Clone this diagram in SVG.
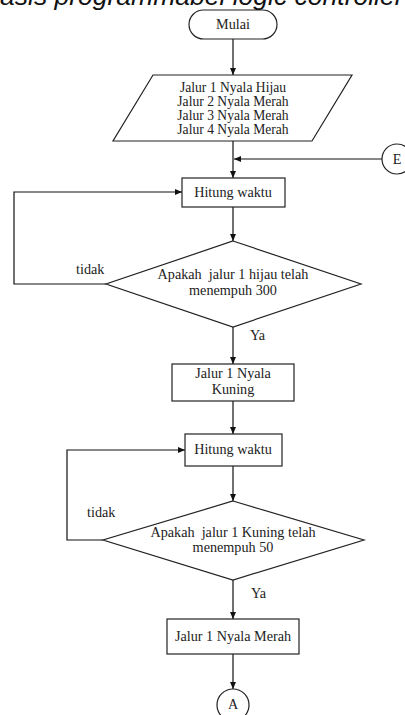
<svg xmlns="http://www.w3.org/2000/svg" width="405" height="715" viewBox="0 0 405 715">
<defs>
<marker id="ah" markerWidth="8" markerHeight="6" refX="7" refY="3" orient="auto" markerUnits="userSpaceOnUse">
<path d="M0,0 L7,3 L0,6 Z" fill="#111"/>
</marker>
<style>
.s{fill:#fff;stroke:#222;stroke-width:1.2}
.c{fill:none;stroke:#111;stroke-width:1.2}
.t{font-family:"Liberation Serif","Times New Roman",serif;font-size:14.2px;fill:#222;text-anchor:middle;white-space:pre}
.l{font-family:"Liberation Serif","Times New Roman",serif;font-size:14.2px;fill:#222}
.m{font-size:13.6px}
</style>
</defs>
<rect width="405" height="715" fill="#fff"/>
<text x="0" y="4.5" font-family="Liberation Sans, Arial, sans-serif" font-size="26.5" font-style="italic" fill="#111">asis programmabel logic controller</text>

<g id="connectors">
<line class="c" x1="233" y1="39" x2="233" y2="75" marker-end="url(#ah)"/>
<line class="c" x1="233" y1="141" x2="233" y2="178" marker-end="url(#ah)"/>
<line class="c" x1="382" y1="159" x2="234" y2="159" marker-end="url(#ah)" stroke="#555"/>
<line class="c" x1="233" y1="207" x2="233" y2="241" marker-end="url(#ah)"/>
<polyline class="c" points="106,284 14,284 14,192 182,192" marker-end="url(#ah)"/>
<line class="c" x1="233" y1="327" x2="233" y2="364" marker-end="url(#ah)"/>
<line class="c" x1="233" y1="401" x2="233" y2="434" marker-end="url(#ah)"/>
<line class="c" x1="233" y1="466" x2="233" y2="501" marker-end="url(#ah)"/>
<polyline class="c" points="103,540 67,540 67,450 185,450" marker-end="url(#ah)"/>
<line class="c" x1="233" y1="580" x2="233" y2="619" marker-end="url(#ah)"/>
<line class="c" x1="233" y1="654" x2="233" y2="689" marker-end="url(#ah)"/>
<text class="l" x="76" y="274">tidak</text>
<text class="l" x="250" y="340">Ya</text>
<text class="l" x="87" y="517">tidak</text>
<text class="l" x="251" y="598">Ya</text>
</g>

<g id="mulai">
<rect class="s" x="189" y="10" width="88" height="29" rx="14.5" ry="14.5"/>
<text class="t" x="233" y="29">Mulai</text>
</g>

<g id="init">
<polygon class="s" points="153,75 352,75 312,141 113,141"/>
<text class="t m" x="233" y="92">Jalur 1 Nyala Hijau</text>
<text class="t m" x="233" y="106">Jalur 2 Nyala Merah</text>
<text class="t m" x="233" y="120">Jalur 3 Nyala Merah</text>
<text class="t m" x="233" y="134">Jalur 4 Nyala Merah</text>
</g>

<g id="E">
<circle class="s" cx="397" cy="159" r="15"/>
<text class="t" x="397" y="164">E</text>
</g>

<g id="hitung1">
<rect class="s" x="182" y="178" width="103" height="29"/>
<text class="t" x="233" y="197">Hitung waktu</text>
</g>

<g id="dec1">
<polygon class="s" points="233,241 361,284 233,327 106,284"/>
<text class="t" x="233" y="279" xml:space="preserve">Apakah  jalur 1 hijau telah</text>
<text class="t" x="233" y="295">menempuh 300</text>
</g>

<g id="kuning">
<rect class="s" x="172" y="364" width="122" height="37"/>
<text class="t" x="233" y="378">Jalur 1 Nyala</text>
<text class="t" x="233" y="394">Kuning</text>
</g>

<g id="hitung2">
<rect class="s" x="185" y="434" width="97" height="32"/>
<text class="t" x="233" y="454">Hitung waktu</text>
</g>

<g id="dec2">
<polygon class="s" points="233,501 364,540 233,580 103,540"/>
<text class="t" x="233" y="537" xml:space="preserve">Apakah  jalur 1 Kuning telah</text>
<text class="t" x="233" y="552">menempuh 50</text>
</g>

<g id="merah">
<rect class="s" x="167" y="619" width="132" height="35"/>
<text class="t" x="233" y="641">Jalur 1 Nyala Merah</text>
</g>

<g id="A">
<circle class="s" cx="233" cy="705" r="16"/>
<text class="t" x="233" y="709">A</text>
</g>
</svg>
